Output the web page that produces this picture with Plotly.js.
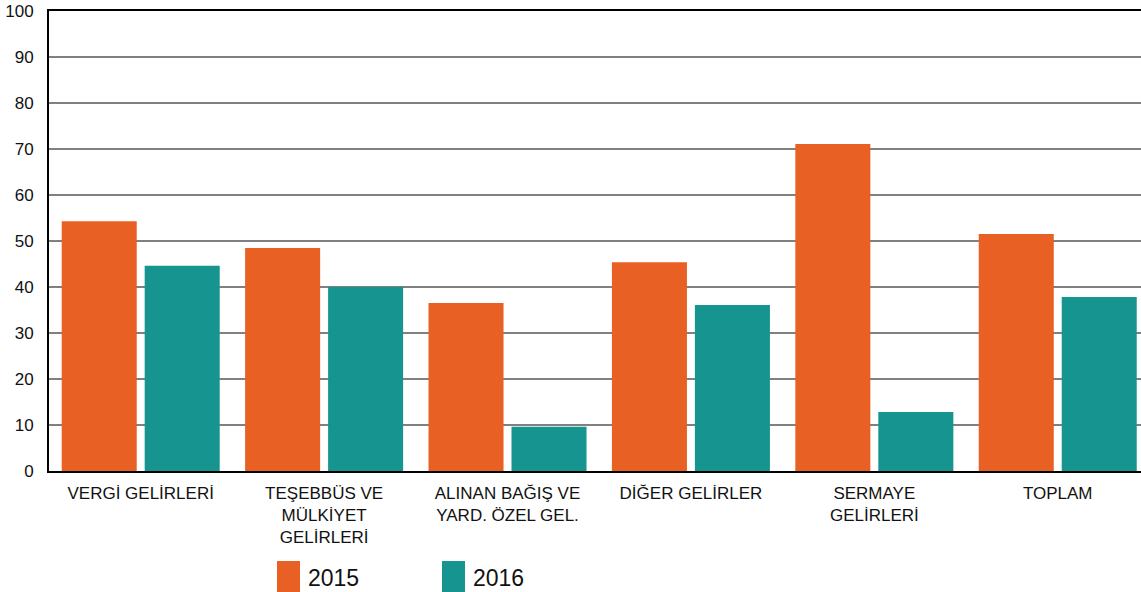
<!DOCTYPE html>
<html>
<head>
<meta charset="utf-8">
<script src="https://cdn.plot.ly/plotly-3.0.1.min.js"></script>
<style>html,body{margin:0;padding:0;background:#fff;}#chart{width:1141px;height:592px;}</style>
</head>
<body>
<div id="chart"></div>
<script>
const categories = ["VERGİ GELİRLERİ", "TEŞEBBÜS VE MÜLKİYET GELİRLERİ", "ALINAN BAĞIŞ VE YARD. ÖZEL GEL.", "DİĞER GELİRLER", "SERMAYE GELİRLERİ", "TOPLAM"];
const tickLabels = ["VERGİ GELİRLERİ", "TEŞEBBÜS VE<br>MÜLKİYET<br>GELİRLERİ", "ALINAN BAĞIŞ VE<br>YARD. ÖZEL GEL.", "DİĞER GELİRLER", "SERMAYE<br>GELİRLERİ", "TOPLAM"];
const seriesNames = ["2015", "2016"];
const values2015 = [54.3, 48.5, 36.5, 45.4, 71.1, 51.5];
const values2016 = [44.6, 40.0, 9.6, 36.1, 12.8, 37.8];
const yTicks = [0, 10, 20, 30, 40, 50, 60, 70, 80, 90, 100];

const colors = ["#E86024", "#169490"];
const FONT = "Liberation Sans, Arial, Helvetica, sans-serif";

const traces = [
  {type: "bar", name: seriesNames[0], x: categories, y: values2015, marker: {color: colors[0]}, showlegend: false, hoverinfo: "skip"},
  {type: "bar", name: seriesNames[1], x: categories, y: values2016, marker: {color: colors[1]}, showlegend: false, hoverinfo: "skip"}
];

// Legend drawn as shapes + annotations (paper coords)
const W = 1141, ML = 49, PW = W - ML, PT = 11, PB = 471, PH = PB - PT;
const px = v => (v - ML) / PW;
const py = v => (PB - v) / PH;
const legendX = [277, 442];
const shapes = [], annotations = [];
seriesNames.forEach((n, i) => {
  shapes.push({type: "rect", xref: "paper", yref: "paper", x0: px(legendX[i]), x1: px(legendX[i] + 23), y0: py(561), y1: py(595), fillcolor: colors[i], line: {width: 0}});
  annotations.push({xref: "paper", yref: "paper", x: px(legendX[i] + 29), y: py(578), xanchor: "left", yanchor: "middle", text: n, showarrow: false, font: {family: FONT, size: 23, color: "#111"}});
});

const layout = {
  width: 1141, height: 592,
  margin: {l: ML, r: 0, t: PT, b: 592 - PB, pad: 0},
  paper_bgcolor: "#fff", plot_bgcolor: "#fff",
  barmode: "group", bargap: 0.095, bargroupgap: 0.096,
  showlegend: false,
  font: {family: FONT, color: "#111"},
  xaxis: {
    type: "category", range: [-0.5, 5.454],
    tickvals: categories, ticktext: tickLabels,
    tickfont: {family: FONT, size: 17, color: "#111"},
    showline: true, linecolor: "#000", linewidth: 2.2, mirror: true,
    showgrid: false, ticks: "outside", ticklen: 0, ticklabelstandoff: 5, zeroline: false
  },
  yaxis: {
    range: [0, 100], tickvals: yTicks,
    tickfont: {family: FONT, size: 17, color: "#111"},
    showline: true, linecolor: "#000", linewidth: 2,
    showgrid: true, gridcolor: "#808080", gridwidth: 1.6,
    ticks: "outside", ticklen: 0, ticklabelstandoff: 10, zeroline: false
  },
  shapes: shapes,
  annotations: annotations
};

Plotly.newPlot("chart", traces, layout, {staticPlot: true, displayModeBar: false});
</script>
</body>
</html>
